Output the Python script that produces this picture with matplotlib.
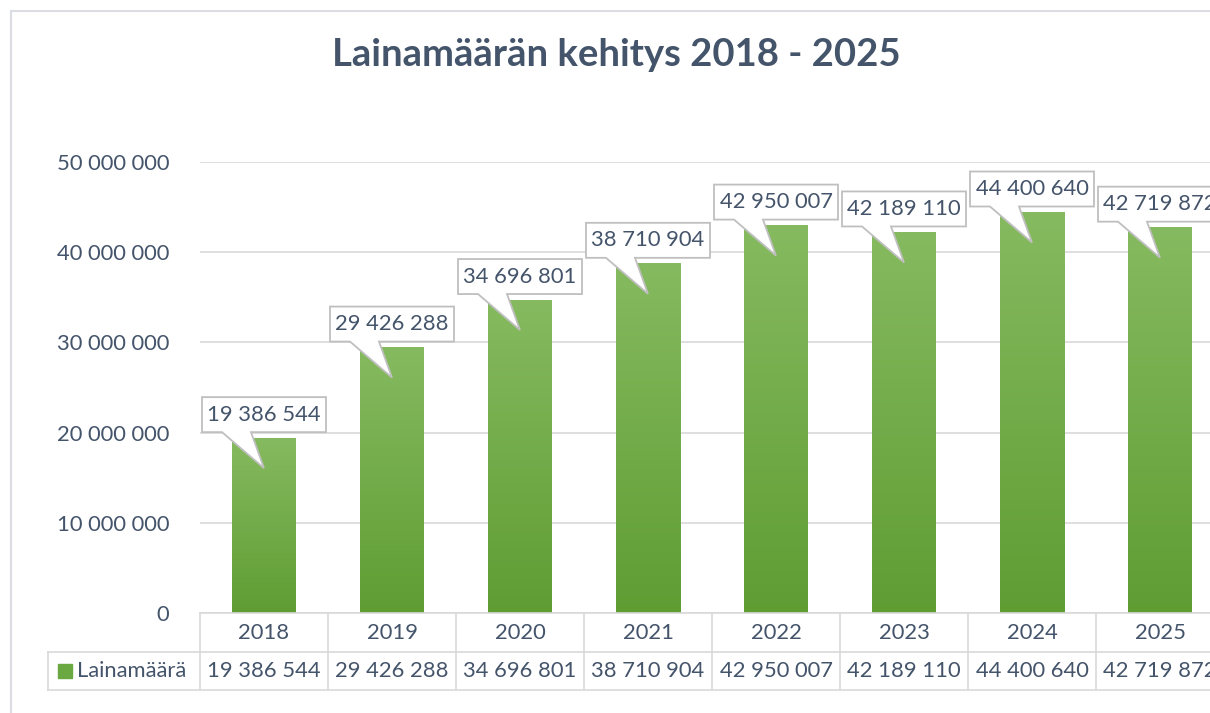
import matplotlib
matplotlib.use("Agg")
import matplotlib.pyplot as plt
import numpy as np
from matplotlib.colors import LinearSegmentedColormap
from matplotlib.patches import Polygon, Rectangle
from matplotlib.lines import Line2D
from matplotlib.transforms import IdentityTransform

years = ["2018", "2019", "2020", "2021", "2022", "2023", "2024", "2025"]
amounts = [19386544, 29426288, 34696801, 38710904, 42950007, 42189110, 44400640, 42719872]
series_name = "Lainamäärä"
title = "Lainamäärän kehitys 2018 - 2025"
yticks = [0, 10000000, 20000000, 30000000, 40000000, 50000000]

W, H = 1210, 713
plt.rcParams["font.family"] = ["Lato", "DejaVu Sans"]
txt_col = "#44546a"
line_col = "#d9d9d9"
fs = 15.8


def fmt(v):
    return f"{v:,}".replace(",", " ")


def fig_xy(x, y):
    # pixel position (from top-left) -> figure fraction
    return x / W, 1 - y / H


fig = plt.figure(figsize=(W / 100, H / 100), dpi=100)
ax = fig.add_axes([200 / W, 1 - 613 / H, 1024 / W, 451 / H])

cmap = LinearSegmentedColormap.from_list("g", ["#5f9d33", "#86ba60"])
grad = np.linspace(1, 0, 256).reshape(-1, 1)
for i, v in enumerate(amounts):
    ax.imshow(grad, extent=(i - 0.25, i + 0.25, 0, v), aspect="auto",
              cmap=cmap, zorder=2, interpolation="bilinear")

ax.set_xlim(-0.5, len(years) - 0.5)
ax.set_ylim(0, 50000000)
ax.set_yticks(yticks)
ax.set_yticklabels([fmt(t) for t in yticks], fontsize=fs, color=txt_col)
ax.tick_params(axis="y", length=0, pad=22)
ax.set_xticks([])
for s in ax.spines.values():
    s.set_visible(False)
ax.grid(axis="y", color=line_col, linewidth=1.2, zorder=0)
ax.set_axisbelow(True)

fig.text(616 / W, 1 - 55 / H, title, ha="center", va="center",
         fontsize=27.5, fontweight="bold", color=txt_col)

# outer chart border
fig.add_artist(Line2D([11 / W, 11 / W], [0, 1 - 11 / H], color="#dcdde2", lw=1.5))
fig.add_artist(Line2D([11 / W, 1], [1 - 11 / H, 1 - 11 / H], color="#dcdde2", lw=1.5))

# data labels as callouts
fig.canvas.draw()
for i, v in enumerate(amounts):
    tx, ty = ax.transData.transform((i, v))
    # display coords: y upward
    left, right = tx - 62, tx + 62
    bot, top = ty + 6, ty + 41
    tip = (tx, ty - 30)
    b1 = left + 20
    b2 = left + 49
    verts = [(left, bot), (b1, bot), tip, (b2, bot), (right, bot),
             (right, top), (left, top)]
    fig.add_artist(Polygon(verts, closed=True, facecolor="white",
                           edgecolor="#bfbfbf", lw=1.3,
                           transform=IdentityTransform(), zorder=5))
    fig.text(tx / W, (bot + top) / 2 / H, fmt(v), ha="center", va="center",
             fontsize=fs, color=txt_col, zorder=6)

# data table below the plot
xs = [ax.transData.transform((i - 0.5, 0))[0] for i in range(len(years) + 1)]
top_y, mid_y, bot_y = 613, 652, 690
fig.add_artist(Line2D([200 / W, 1], [1 - top_y / H] * 2, color=line_col, lw=1.2))
fig.add_artist(Line2D([48 / W, 1], [1 - mid_y / H] * 2, color=line_col, lw=1.2))
fig.add_artist(Line2D([48 / W, 1], [1 - bot_y / H] * 2, color=line_col, lw=1.2))
fig.add_artist(Line2D([48 / W] * 2, [1 - mid_y / H, 1 - bot_y / H], color=line_col, lw=1.2))
for x in xs:
    fig.add_artist(Line2D([x / W] * 2, [1 - top_y / H, 1 - bot_y / H], color=line_col, lw=1.2))
for i, (yr, v) in enumerate(zip(years, amounts)):
    cx = (xs[i] + xs[i + 1]) / 2
    fig.text(cx / W, 1 - 633 / H, yr, ha="center", va="center", fontsize=fs, color=txt_col)
    fig.text(cx / W, 1 - 671 / H, fmt(v), ha="center", va="center", fontsize=fs, color=txt_col)

fig.add_artist(Rectangle(fig_xy(58, 678), 14 / W, 14 / H, color="#6aa842"))
fig.text(77 / W, 1 - 671 / H, series_name, ha="left", va="center", fontsize=fs, color=txt_col)

fig.savefig("out.png", dpi=100)
